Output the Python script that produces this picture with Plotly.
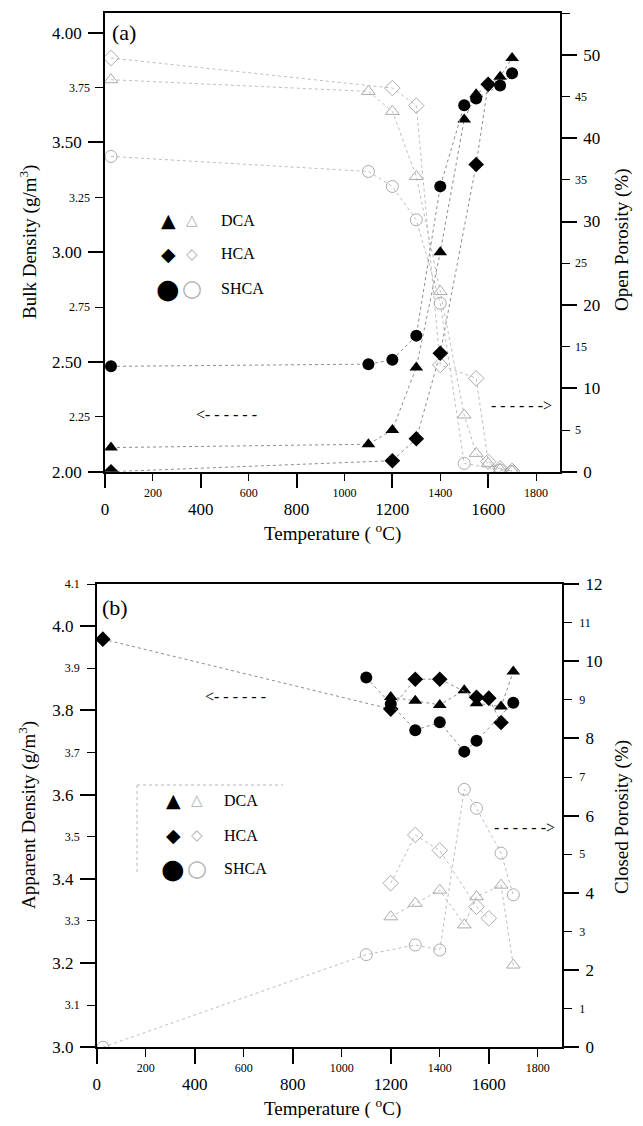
import plotly.graph_objects as go

W, H = 643, 1126
OFF = 8                      # browser body margin
FW, FH = W - 2 * OFF, H - 2 * OFF
SERIF = "Liberation Serif"
SYM = "DejaVu Sans"

# ---------------- data: panel (a) ----------------
# bulk density (filled markers, left axis)
T_DCA_A = [25, 1100, 1200, 1300, 1400, 1500, 1550, 1650, 1700]
BULK_DCA = [2.11, 2.125, 2.19, 2.475, 3.00, 3.605, 3.72, 3.80, 3.885]
T_HCA_A = [25, 1200, 1300, 1400, 1550, 1600]
BULK_HCA = [2.00, 2.05, 2.15, 2.54, 3.40, 3.765]
T_SHCA_A = [25, 1100, 1200, 1300, 1400, 1500, 1550, 1650, 1700]
BULK_SHCA = [2.48, 2.49, 2.51, 2.62, 3.30, 3.67, 3.70, 3.76, 3.815]
# open porosity (open markers, right axis)
T_DCA_OP = [25, 1100, 1200, 1300, 1400, 1500, 1550, 1600, 1650, 1700]
OPEN_DCA = [47.0, 45.6, 43.2, 35.4, 21.6, 6.8, 2.2, 1.0, 0.3, 0.1]
T_HCA_OP = [25, 1200, 1300, 1400, 1550, 1600, 1650, 1700]
OPEN_HCA = [49.6, 46.0, 43.9, 12.8, 11.2, 1.2, 0.4, 0.1]
T_SHCA_OP = [25, 1100, 1200, 1300, 1400, 1500, 1650, 1700]
OPEN_SHCA = [37.8, 36.0, 34.2, 30.2, 20.2, 1.0, 0.2, 0.0]

# ---------------- data: panel (b) ----------------
# apparent density (filled markers, left axis)
T_DCA_B = [1200, 1300, 1400, 1500, 1550, 1650, 1700]
APP_DCA = [3.832, 3.823, 3.813, 3.848, 3.817, 3.809, 3.892]
T_HCA_B = [25, 1200, 1300, 1400, 1550, 1600, 1650]
APP_HCA = [3.969, 3.803, 3.874, 3.874, 3.831, 3.829, 3.771]
T_SHCA_B = [1100, 1200, 1300, 1400, 1500, 1550, 1700]
APP_SHCA = [3.878, 3.815, 3.753, 3.772, 3.702, 3.728, 3.818]
# closed porosity (open markers, right axis)
T_DCA_CP = [1200, 1300, 1400, 1500, 1550, 1650, 1700]
CLOSED_DCA = [3.38, 3.73, 4.07, 3.17, 3.90, 4.20, 2.13]
T_HCA_CP = [1200, 1300, 1400, 1550, 1600]
CLOSED_HCA = [4.25, 5.50, 5.10, 3.64, 3.34]
T_SHCA_CP = [25, 1100, 1300, 1400, 1500, 1550, 1650, 1700]
CLOSED_SHCA = [0.0, 2.40, 2.65, 2.52, 6.68, 6.19, 5.03, 3.95]

# ---------------- ticks ----------------
X_MAJOR = [0, 400, 800, 1200, 1600]
X_MAJOR_TXT = ["0", "400", "800", "1200", "1600"]
X_MINOR = [200, 600, 1000, 1400, 1800]
X_MINOR_TXT = ["200", "600", "1000", "1400", "1800"]
BULK_MAJOR = [2.0, 2.5, 3.0, 3.5, 4.0]
BULK_MAJOR_TXT = ["2.00", "2.50", "3.00", "3.50", "4.00"]
BULK_MINOR = [2.25, 2.75, 3.25, 3.75]
BULK_MINOR_TXT = ["2.25", "2.75", "3.25", "3.75"]
OPEN_MAJOR = [0, 10, 20, 30, 40, 50]
OPEN_MAJOR_TXT = ["0", "10", "20", "30", "40", "50"]
OPEN_MINOR = [5, 15, 25, 35, 45, 55]
OPEN_MINOR_TXT = ["5", "15", "25", "35", "45", "55"]
APP_MAJOR = [3.0, 3.2, 3.4, 3.6, 3.8, 4.0]
APP_MAJOR_TXT = ["3.0", "3.2", "3.4", "3.6", "3.8", "4.0"]
APP_MINOR = [3.1, 3.3, 3.5, 3.7, 3.9, 4.1]
APP_MINOR_TXT = ["3.1", "3.3", "3.5", "3.7", "3.9", "4.1"]
CLOSED_MAJOR = [0, 2, 4, 6, 8, 10, 12]
CLOSED_MAJOR_TXT = ["0", "2", "4", "6", "8", "10", "12"]
CLOSED_MINOR = [1, 3, 5, 7, 9, 11]
CLOSED_MINOR_TXT = ["1", "3", "5", "7", "9", "11"]

X_RANGE = [0, 1900]
BULK_RANGE = [2.0, 4.09]
OPEN_RANGE = [0, 55]
APP_RANGE = [3.0, 4.1]
CLOSED_RANGE = [0, 12]


def px(x):
    return (x - OFF) / FW


def py(y):
    return 1 - (y - OFF) / FH


XA = [px(105), px(560)]
YA = [py(471.7), py(13)]
XB = [px(96.7), px(562.3)]
YB = [py(1047.3), py(584)]

fig = go.Figure()


def add_series(x, y, xa, ya, symbol, filled):
    if filled:
        marker = dict(symbol=symbol, size=12, color="black", line=dict(width=0))
        line = dict(color="#8c8c8c", width=1, dash="dot")
    else:
        marker = dict(symbol=symbol + "-open", size=12, color="#ababab",
                      line=dict(width=1, color="#ababab"))
        line = dict(color="#bdbdbd", width=1, dash="dot")
    fig.add_trace(go.Scatter(x=x, y=y, xaxis=xa, yaxis=ya, mode="lines+markers",
                             marker=marker, line=line, showlegend=False,
                             hoverinfo="skip"))


# panel (a): open porosity on base axis y (right), bulk density on overlay y2 (left)
add_series(T_DCA_OP, OPEN_DCA, "x", "y", "triangle-up", False)
add_series(T_HCA_OP, OPEN_HCA, "x", "y", "diamond", False)
add_series(T_SHCA_OP, OPEN_SHCA, "x", "y", "circle", False)
add_series(T_DCA_A, BULK_DCA, "x", "y2", "triangle-up", True)
add_series(T_HCA_A, BULK_HCA, "x", "y2", "diamond", True)
add_series(T_SHCA_A, BULK_SHCA, "x", "y2", "circle", True)

# panel (b): closed porosity on base axis y3 (right), apparent density on overlay y4 (left)
add_series(T_DCA_CP, CLOSED_DCA, "x2", "y3", "triangle-up", False)
add_series(T_HCA_CP, CLOSED_HCA, "x2", "y3", "diamond", False)
add_series(T_SHCA_CP, CLOSED_SHCA, "x2", "y3", "circle", False)
add_series(T_DCA_B, APP_DCA, "x2", "y4", "triangle-up", True)
add_series(T_HCA_B, APP_HCA, "x2", "y4", "diamond", True)
add_series(T_SHCA_B, APP_SHCA, "x2", "y4", "circle", True)

# empty traces that carry the small-label axes
for xa, ya in [("x3", "y"), ("x", "y5"), ("x", "y6"), ("x4", "y3"), ("x2", "y7"), ("x2", "y8")]:
    fig.add_trace(go.Scatter(x=[None], y=[None], xaxis=xa, yaxis=ya, mode="markers",
                             showlegend=False, hoverinfo="skip"))


def main_axis(rng, major, major_txt, minor, **kw):
    d = dict(range=rng, tickmode="array", tickvals=major, ticktext=major_txt,
             ticks="outside", ticklen=15, tickwidth=2, tickcolor="black",
             showline=True, linecolor="black", linewidth=1.5, showgrid=False,
             zeroline=False, automargin=False, fixedrange=True,
             tickfont=dict(family=SERIF, size=17, color="black"),
             ticklabelstandoff=3,
             minor=dict(tickmode="array", tickvals=minor, ticks="outside",
                        ticklen=8, tickwidth=1, tickcolor="black", showgrid=False))
    d.update(kw)
    return d


def label_axis(rng, vals, txt, standoff, **kw):
    d = dict(range=rng, tickmode="array", tickvals=vals, ticktext=txt, ticks="",
             showline=False, showgrid=False, zeroline=False, automargin=False,
             fixedrange=True, ticklabelstandoff=standoff,
             tickfont=dict(family=SERIF, size=12, color="black"))
    d.update(kw)
    return d


fig.update_layout(
    width=FW, height=FH, autosize=False,
    margin=dict(l=0, r=0, t=0, b=0, pad=0),
    paper_bgcolor="white", plot_bgcolor="white",
    showlegend=False,
    xaxis=main_axis(X_RANGE, X_MAJOR, X_MAJOR_TXT, X_MINOR, domain=XA, anchor="y",
                    mirror=True, ticklabelstandoff=6),
    yaxis=main_axis(OPEN_RANGE, OPEN_MAJOR, OPEN_MAJOR_TXT, OPEN_MINOR, domain=YA,
                    anchor="x", side="right"),
    yaxis2=main_axis(BULK_RANGE, BULK_MAJOR, BULK_MAJOR_TXT, BULK_MINOR,
                     overlaying="y", anchor="x", side="left"),
    xaxis3=label_axis(X_RANGE, X_MINOR, X_MINOR_TXT, 12, overlaying="x", anchor="y",
                      side="bottom"),
    yaxis5=label_axis(BULK_RANGE, BULK_MINOR, BULK_MINOR_TXT, 14, overlaying="y",
                      anchor="x", side="left"),
    yaxis6=label_axis(OPEN_RANGE, OPEN_MINOR, OPEN_MINOR_TXT, 14, overlaying="y",
                      anchor="x", side="right"),
    xaxis2=main_axis(X_RANGE, X_MAJOR, X_MAJOR_TXT, X_MINOR, domain=XB, anchor="y3",
                     mirror=True, ticklabelstandoff=6),
    yaxis3=main_axis(CLOSED_RANGE, CLOSED_MAJOR, CLOSED_MAJOR_TXT, CLOSED_MINOR,
                     domain=YB, anchor="x2", side="right"),
    yaxis4=main_axis(APP_RANGE, APP_MAJOR, APP_MAJOR_TXT, APP_MINOR,
                     overlaying="y3", anchor="x2", side="left"),
    xaxis4=label_axis(X_RANGE, X_MINOR, X_MINOR_TXT, 12, overlaying="x2", anchor="y3",
                      side="bottom"),
    yaxis7=label_axis(APP_RANGE, APP_MINOR, APP_MINOR_TXT, 16, overlaying="y3",
                      anchor="x2", side="left"),
    yaxis8=label_axis(CLOSED_RANGE, CLOSED_MINOR, CLOSED_MINOR_TXT, 16, overlaying="y3",
                      anchor="x2", side="right"),
)

ann = []


def text(x, y, s, size=19, angle=0, xanchor="center", color="black", family=SERIF):
    ann.append(dict(x=px(x), y=py(y), xref="paper", yref="paper", text=s,
                    showarrow=False, textangle=angle, xanchor=xanchor,
                    yanchor="middle", font=dict(family=family, size=size, color=color)))


# axis titles
text(28, 242, "Bulk Density (g/m<sup>3</sup>)", angle=-90)
text(622, 240, "Open Porosity (%)", angle=-90)
text(332, 532, "Temperature ( <sup>o</sup>C)")
text(27, 815, "Apparent Density (g/m<sup>3</sup>)", angle=-90)
text(622, 817, "Closed Porosity (%)", angle=-90)
text(332, 1107, "Temperature ( <sup>o</sup>C)")
# panel labels
text(110, 33, "(a)", size=22, xanchor="left")
text(100, 607, "(b)", size=22, xanchor="left")
# arrows
text(226, 414, "&lt;- - - - - -", size=16)
text(521, 405, "- - - - - -&gt;", size=16)
text(235, 696, "&lt;- - - - - -", size=16)
text(524, 827, "- - - - - -&gt;", size=16)

# legends
LEG_NAMES = ["DCA", "HCA", "SHCA"]
LEG_FILLED = ["▲", "◆", "●"]
LEG_OPEN = ["△", "◇", "○"]
LEG_SIZE = [19, 19, 27]
for i, (rows_y, xf, xo, xt) in enumerate([([220, 254, 288], 168, 192, 219),
                                          ([800, 835, 868], 173, 197, 222)]):
    for j in range(3):
        fs = LEG_SIZE[j]
        text(xf, rows_y[j], LEG_FILLED[j], size=fs, family=SYM)
        text(xo, rows_y[j], LEG_OPEN[j], size=fs - 4, family=SYM, color="#b0b0b0")
        text(xt, rows_y[j], LEG_NAMES[j], size=16, xanchor="left")

fig.update_layout(annotations=ann)

# faint dotted frame around legend (b)
fig.update_layout(shapes=[
    dict(type="line", xref="paper", yref="paper", x0=px(137), x1=px(283),
         y0=py(785), y1=py(785), line=dict(color="#b8b8b8", width=1, dash="dot")),
    dict(type="line", xref="paper", yref="paper", x0=px(137), x1=px(137),
         y0=py(785), y1=py(873), line=dict(color="#b8b8b8", width=1, dash="dot")),
])

fig.write_html("out.html")
